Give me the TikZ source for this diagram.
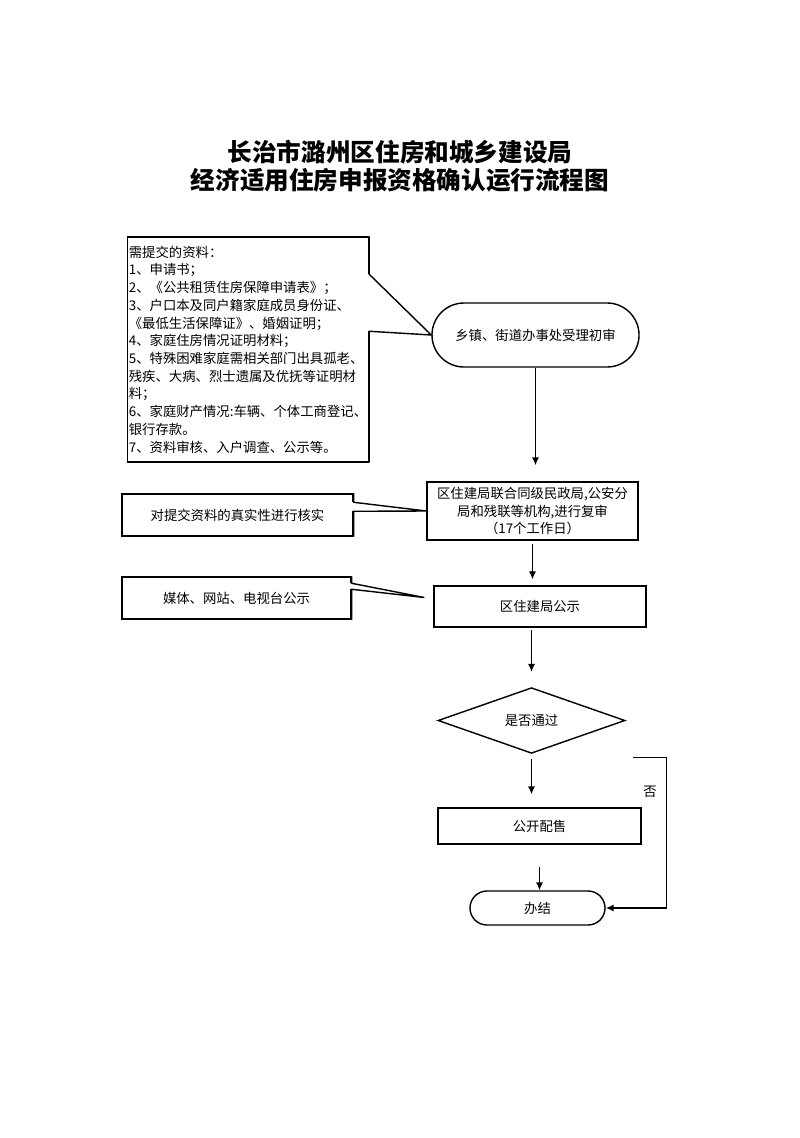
\documentclass[tikz,border=0pt]{standalone}
\usepackage{fontspec}
\setmainfont{Noto Sans CJK SC}
\usetikzlibrary{arrows.meta,positioning,shapes.geometric,calc}

\begin{document}
\begin{tikzpicture}
[x=0.025cm, y=-0.025cm, >={Latex[length=2mm,width=1.8mm]}, line width=1pt,
block/.style = 
{draw, shape=rectangle, align=center, inner sep=1pt, font=\fontsize{9.5}{12.6}\selectfont},
term/.style = {block, rounded corners=#1},
cond/.style = {draw, shape=diamond, inner sep=0pt, font=\fontsize{9.5}{12.6}\selectfont}]
\useasboundingbox (0,0) rectangle (800,1138);

\node[align=center, font=\fontsize{17.5}{19.9}\selectfont\bfseries] (title) at (400,166)
{长治市潞州区住房和城乡建设局\\经济适用住房申报资格确认运行流程图};

\node[block, align=left, minimum width=6cm, minimum height=5.625cm] (req) at (248,349.5)
{需提交的资料：\\1、申请书；\\2、《公共租赁住房保障申请表》；\\3、户口本及同户籍家庭成员身份证、\\《最低生活保障证》、婚姻证明；\\4、家庭住房情况证明材料；\\5、特殊困难家庭需相关部门出具孤老、\\残疾、大病、烈士遗属及优抚等证明材\\料；\\6、家庭财产情况:车辆、个体工商登记、\\银行存款。\\7、资料审核、入户调查、公示等。};

\node[term=0.8cm, minimum width=5.175cm, minimum height=1.6cm] (acc) at (535.5,335) {乡镇、街道办事处受理初审};
\node[block, minimum width=5.275cm, minimum height=1.45cm] (rev) at (532.5,511)
{区住建局联合同级民政局,公安分\\局和残联等机构,进行复审\\（17个工作日）};
\node[block, minimum width=5.3cm, minimum height=1.025cm] (pub) at (540,606.5) {区住建局公示};
\node[block, minimum width=5.775cm, minimum height=1.05cm] (chk) at (237.5,515) {对提交资料的真实性进行核实};
\node[block, minimum width=5.725cm, minimum height=1.05cm] (med) at (236.5,598) {媒体、网站、电视台公示};
\node[cond, minimum width=4.675cm, minimum height=1.625cm] (dec) at (531.5,720.5) {是否通过};
\node[block, minimum width=5.075cm, minimum height=0.9cm] (sale) at (539.5,826) {公开配售};
\node[term=0.425cm, minimum width=3.375cm, minimum height=0.85cm] (fin) at (537.5,908) {办结};

\coordinate (r1) at ($(req.north east)+(0,38)$);
\coordinate (r2) at ($(req.north east)+(0,95)$);
\draw[white, line width=2.5pt] (r1) -- (r2);
\draw (req.north east) -- (r1) -- (acc.west) -- (r2) -- (req.south east);

\coordinate (c1) at ($(chk.north east)+(0,9)$);
\coordinate (c2) at ($(chk.north east)+(0,18)$);
\draw[white, line width=2.5pt] (c1) -- (c2);
\draw (chk.north east) -- (c1) -- (rev.west) -- (c2) -- (chk.south east);

\coordinate (m1) at ($(med.north east)+(0,7)$);
\coordinate (m2) at ($(med.north east)+(0,13)$);
\coordinate (m3) at ($(pub.west)+(-9,-9)$);
\draw[white, line width=2.5pt] (m1) -- (m2);
\draw (med.north east) -- (m1) -- (m3) -- (m2) -- (med.south east);

\draw[->, shorten >=0.4cm] (acc.south) -- (acc.south |- rev.north);
\draw[->, shorten <=0.075cm, shorten >=0.15cm] (rev.south) -- (rev.south |- pub.north);
\draw[->, shorten <=0.05cm, shorten >=0.375cm] (dec.north |- pub.south) -- (dec.north);
\draw[->, shorten <=0.125cm, shorten >=0.325cm] (dec.south) -- (dec.south |- sale.north);
\draw[->, shorten <=0.55cm] (sale.south) -- (sale.south |- fin.north);

\coordinate (no) at ($(dec.east)+(7,37)$);
\draw[->] (no) -- ++(34,0) |- (fin.east);
\node[font=\fontsize{9.5}{12.6}\selectfont] (noA) at (650,792) {否};

\end{tikzpicture}
\end{document}
